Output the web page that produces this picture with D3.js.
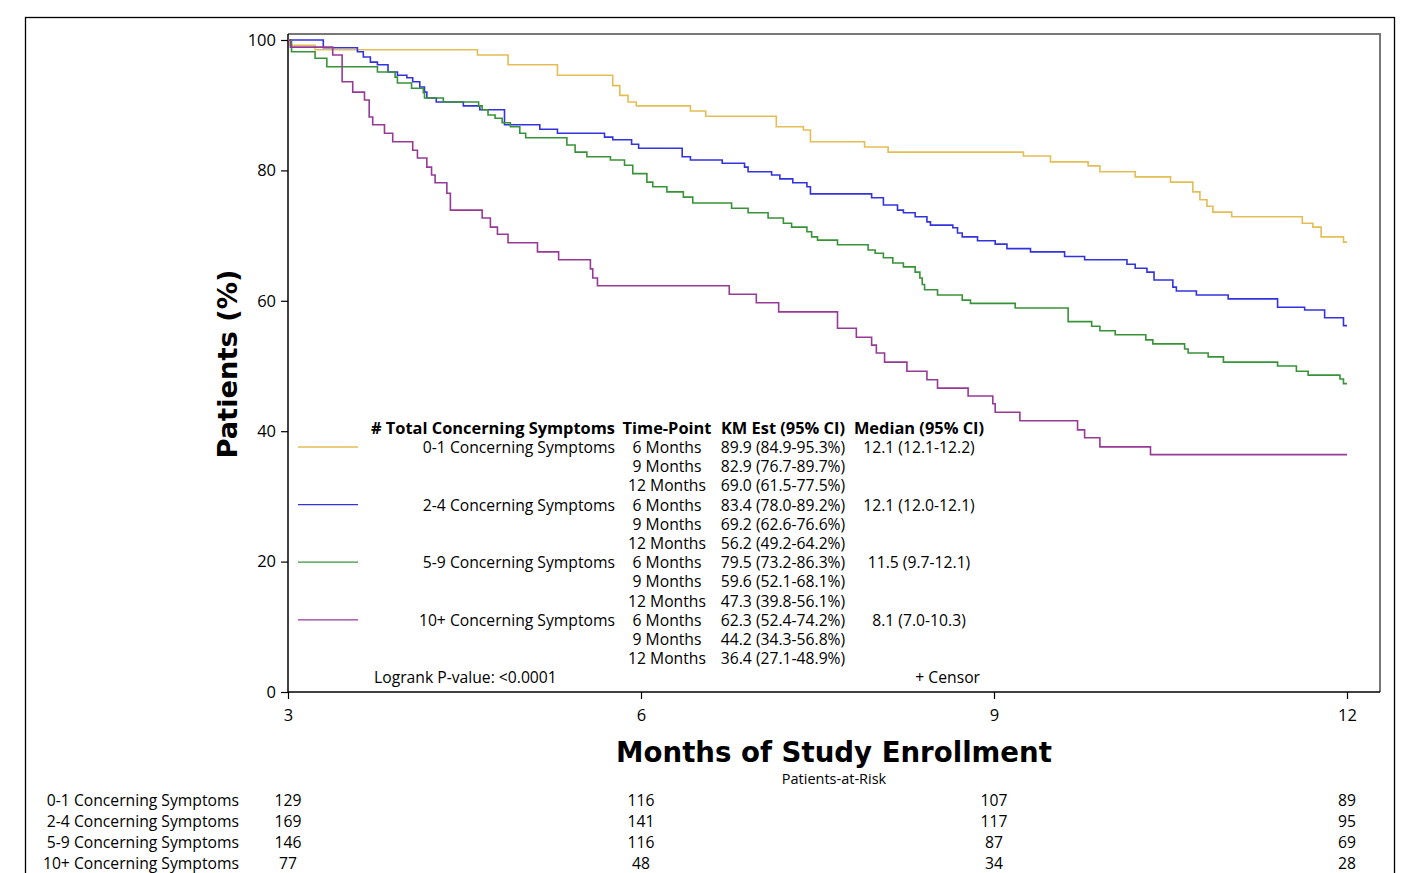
<!DOCTYPE html>
<html>
<head>
<meta charset="utf-8">
<script src="https://cdn.jsdelivr.net/npm/d3@7"></script>
<style>
  body { margin: 0; background: #fff; }
  svg text { font-family: "Open Sans", "DejaVu Sans", sans-serif; fill: #000; }
  .bold { font-family: "DejaVu Sans", sans-serif; font-weight: bold; }
</style>
</head>
<body>
<svg width="1409" height="873"></svg>
<script>
var svg = d3.select("svg"),
	width = +svg.attr("width"),
	height = +svg.attr("height");

// group names and colours
var groups = ["0-1 Concerning Symptoms", "2-4 Concerning Symptoms", "5-9 Concerning Symptoms", "10+ Concerning Symptoms"];
var colors = ["#E3BD55", "#3333DD", "#389338", "#963A96"];

// step curves (months, % patients)
var t01 = [3.00, 3.02, 3.23, 4.61, 4.87, 5.29, 5.76, 5.82, 5.89, 5.96, 6.42, 6.55, 7.15, 7.38, 7.44, 7.90, 8.10, 9.25, 9.48, 9.80, 9.90, 10.20, 10.50, 10.69, 10.75, 10.81, 10.86, 11.02, 11.62, 11.71, 11.78, 11.97, 12.00];
var s01 = [100, 99.2, 98.5, 97.7, 96.2, 94.6, 93.0, 91.5, 90.5, 89.9, 89.1, 88.3, 86.7, 86.2, 84.4, 83.6, 82.8, 82.2, 81.3, 80.7, 79.8, 79.0, 78.2, 76.7, 75.5, 74.5, 73.6, 72.9, 71.9, 71.3, 69.8, 69.0, 69.0];

var t24 = [3.00, 3.30, 3.59, 3.64, 3.70, 3.76, 3.85, 3.93, 4.01, 4.06, 4.12, 4.16, 4.18, 4.26, 4.49, 4.63, 4.84, 5.14, 5.29, 5.69, 5.76, 5.92, 5.98, 6.35, 6.42, 6.69, 6.88, 6.91, 7.11, 7.18, 7.29, 7.41, 7.44, 7.96, 8.06, 8.18, 8.23, 8.33, 8.43, 8.46, 8.65, 8.69, 8.73, 8.86, 9.01, 9.11, 9.31, 9.60, 9.77, 10.13, 10.20, 10.30, 10.36, 10.52, 10.55, 10.72, 10.99, 11.41, 11.64, 11.81, 11.97, 12.00];
var s24 = [100, 98.8, 98.2, 97.4, 96.6, 96.2, 95.1, 94.6, 94.2, 93.6, 92.8, 92.0, 91.1, 90.5, 89.9, 89.3, 87.0, 86.3, 85.7, 85.1, 84.7, 84.0, 83.4, 82.1, 81.6, 81.1, 80.5, 79.8, 79.3, 78.7, 78.1, 77.5, 76.4, 75.8, 74.7, 73.9, 73.5, 72.9, 72.1, 71.6, 71.2, 70.4, 69.8, 69.2, 68.7, 68.0, 67.5, 66.8, 66.3, 65.6, 65.0, 64.4, 63.2, 62.1, 61.5, 60.9, 60.3, 59.0, 58.6, 57.4, 56.2, 56.2];

var t59 = [3.00, 3.03, 3.23, 3.33, 3.76, 3.91, 3.93, 4.05, 4.15, 4.16, 4.32, 4.62, 4.65, 4.70, 4.76, 4.82, 4.89, 4.97, 5.02, 5.37, 5.44, 5.54, 5.74, 5.86, 5.93, 6.05, 6.10, 6.22, 6.36, 6.44, 6.77, 6.91, 7.08, 7.21, 7.28, 7.41, 7.45, 7.50, 7.67, 7.93, 7.99, 8.06, 8.14, 8.23, 8.33, 8.37, 8.39, 8.41, 8.52, 8.73, 8.80, 9.18, 9.63, 9.83, 9.90, 10.03, 10.29, 10.35, 10.62, 10.65, 10.82, 10.95, 11.41, 11.57, 11.67, 11.94, 11.97, 12.00];
var s59 = [100, 98.2, 97.2, 95.9, 95.1, 94.3, 93.4, 92.6, 91.9, 91.1, 90.5, 89.9, 89.3, 88.5, 88.0, 87.3, 86.7, 85.7, 85.0, 83.9, 82.8, 82.1, 81.6, 80.8, 79.5, 78.2, 77.5, 76.7, 75.9, 75.0, 74.2, 73.5, 72.7, 71.9, 71.3, 70.6, 69.8, 69.3, 68.6, 67.8, 67.3, 66.6, 65.8, 65.2, 64.4, 63.5, 62.5, 61.7, 60.9, 60.1, 59.6, 58.9, 56.8, 56.1, 55.4, 54.8, 54.0, 53.4, 52.6, 52.0, 51.4, 50.6, 50.0, 49.2, 48.6, 48.0, 47.3, 47.3];

var t10 = [3.00, 3.02, 3.38, 3.46, 3.55, 3.65, 3.69, 3.72, 3.82, 3.89, 4.06, 4.10, 4.18, 4.22, 4.25, 4.35, 4.38, 4.65, 4.72, 4.78, 4.87, 5.12, 5.30, 5.57, 5.59, 5.63, 6.75, 6.98, 7.17, 7.67, 7.83, 7.96, 8.00, 8.07, 8.26, 8.43, 8.52, 8.78, 8.99, 9.01, 9.22, 9.71, 9.77, 9.90, 10.33, 12.00];
var s10 = [100, 98.9, 97.7, 93.6, 92.0, 90.8, 88.2, 87.0, 85.7, 84.4, 83.1, 81.9, 80.5, 79.3, 78.1, 76.5, 73.9, 72.7, 71.3, 70.2, 68.9, 67.5, 66.3, 64.9, 63.5, 62.3, 61.0, 59.7, 58.3, 55.8, 54.4, 53.2, 52.0, 50.6, 49.2, 47.9, 46.6, 45.4, 44.2, 42.9, 41.6, 40.2, 39.0, 37.6, 36.4, 36.4];

var curveTimes = [t01, t24, t59, t10];
var curveSurv = [s01, s24, s59, s10];

// legend table
var timePoints = ["6 Months", "9 Months", "12 Months"];
var kmEst = [
	["89.9 (84.9-95.3%)", "82.9 (76.7-89.7%)", "69.0 (61.5-77.5%)"],
	["83.4 (78.0-89.2%)", "69.2 (62.6-76.6%)", "56.2 (49.2-64.2%)"],
	["79.5 (73.2-86.3%)", "59.6 (52.1-68.1%)", "47.3 (39.8-56.1%)"],
	["62.3 (52.4-74.2%)", "44.2 (34.3-56.8%)", "36.4 (27.1-48.9%)"]
];
var medians = ["12.1 (12.1-12.2)", "12.1 (12.0-12.1)", "11.5 (9.7-12.1)", "8.1 (7.0-10.3)"];

// patients at risk
var riskTimes = [3, 6, 9, 12];
var atRisk = [
	[129, 116, 107, 89],
	[169, 141, 117, 95],
	[146, 116, 87, 69],
	[77, 48, 34, 28]
];

var xTicks = [3, 6, 9, 12];
var yTicks = [0, 20, 40, 60, 80, 100];

// layout (plotTop: "top" is taken by window.top)
var plotLeft = 288, plotRight = 1380, plotTop = 34, plotBottom = 692;
var fs = "15.7px";

var x = d3.scaleLinear().domain([3, 12]).range([plotLeft, 1347]);
var y = d3.scaleLinear().domain([0, 100]).range([plotBottom, 40]);

// outer frame
svg.append("rect")
	.attr("x", 25.5).attr("y", 17.5)
	.attr("width", 1369).attr("height", 900)
	.style("fill", "none").style("stroke", "#000").style("stroke-width", 1.3);

// plot frame (top/right)
svg.append("path")
	.attr("d", "M" + plotLeft + "," + plotTop + "H" + plotRight + "V" + plotBottom)
	.style("fill", "none").style("stroke", "#777").style("stroke-width", 2);

// axes
var yAxis = svg.append("g")
	.attr("transform", "translate(" + plotLeft + ",0)")
	.call(d3.axisLeft(y).tickValues(yTicks).tickSize(7).tickPadding(5));
var xAxis = svg.append("g")
	.attr("transform", "translate(0," + plotBottom + ")")
	.call(d3.axisBottom(x).tickValues(xTicks).tickSize(7).tickPadding(10));

[yAxis, xAxis].forEach(function(a){
	a.select(".domain").remove();
	a.selectAll("line").style("stroke", "#000").style("stroke-width", 1.2);
	a.selectAll("text").style("font-size", "16.5px").style("font-family", "'Open Sans', sans-serif").style("fill", "#000");
});

svg.append("line")
	.attr("x1", plotLeft).attr("x2", plotLeft).attr("y1", plotTop).attr("y2", plotBottom)
	.style("stroke", "#000").style("stroke-width", 1.5);
svg.append("line")
	.attr("x1", plotLeft).attr("x2", plotRight).attr("y1", plotBottom).attr("y2", plotBottom)
	.style("stroke", "#000").style("stroke-width", 1.5);

// axis titles
svg.append("text")
	.attr("class", "bold")
	.attr("transform", "translate(237,364) rotate(-90)")
	.attr("text-anchor", "middle")
	.style("font-size", "27.3px")
	.text("Patients (%)");

svg.append("text")
	.attr("class", "bold")
	.attr("x", 834).attr("y", 762)
	.attr("text-anchor", "middle")
	.style("font-size", "27.6px")
	.text("Months of Study Enrollment");

// curves
var line = d3.line()
	.x(function(d){ return x(d[0]); })
	.y(function(d){ return y(d[1]); })
	.curve(d3.curveStepAfter);

svg.append("g")
	.selectAll("path")
	.data(d3.range(groups.length))
	.enter().append("path")
	.attr("d", function(i){ return line(d3.zip(curveTimes[i], curveSurv[i])); })
	.style("fill", "none")
	.style("stroke", function(i){ return colors[i]; })
	.style("stroke-width", 1.6);

// legend table
var rowH = 19.2, row0 = 447;
var leg = svg.append("g").style("font-size", fs);

var header = [["# Total Concerning Symptoms", 615, "end"], ["Time-Point", 667, "middle"], ["KM Est (95% CI)", 783, "middle"], ["Median (95% CI)", 919, "middle"]];
leg.selectAll("text.head")
	.data(header)
	.enter().append("text")
	.attr("class", "head")
	.attr("x", function(d){ return d[1]; })
	.attr("y", row0 - rowH + 6)
	.attr("text-anchor", function(d){ return d[2]; })
	.style("font-weight", "bold")
	.style("font-size", "16.4px")
	.text(function(d){ return d[0]; });

groups.forEach(function(g, i){
	var base = row0 + i * 3 * rowH;
	leg.append("line")
		.attr("x1", 298).attr("x2", 358)
		.attr("y1", base).attr("y2", base)
		.style("stroke", colors[i]).style("stroke-width", 1.3);
	leg.append("text")
		.attr("x", 615).attr("y", base + 6)
		.attr("text-anchor", "end")
		.text(g);
	leg.append("text")
		.attr("x", 919).attr("y", base + 6)
		.attr("text-anchor", "middle")
		.text(medians[i]);
	timePoints.forEach(function(tp, j){
		leg.append("text")
			.attr("x", 667).attr("y", base + j * rowH + 6)
			.attr("text-anchor", "middle")
			.text(tp);
		leg.append("text")
			.attr("x", 783).attr("y", base + j * rowH + 6)
			.attr("text-anchor", "middle")
			.text(kmEst[i][j]);
	});
});

leg.append("text")
	.attr("x", 374).attr("y", row0 + 12 * rowH + 6)
	.text("Logrank P-value: <0.0001");
leg.append("text")
	.attr("x", 980).attr("y", row0 + 12 * rowH + 6)
	.attr("text-anchor", "end")
	.text("+  Censor");

// patients at risk
svg.append("text")
	.attr("x", 834).attr("y", 784)
	.attr("text-anchor", "middle")
	.style("font-size", "14.5px")
	.text("Patients-at-Risk");

var risk = svg.append("g").style("font-size", fs);
groups.forEach(function(g, i){
	var yy = 806 + i * 21;
	risk.append("text")
		.attr("x", 239).attr("y", yy)
		.attr("text-anchor", "end")
		.text(g);
	riskTimes.forEach(function(t, j){
		risk.append("text")
			.attr("x", x(t)).attr("y", yy)
			.attr("text-anchor", "middle")
			.text(atRisk[i][j]);
	});
});
</script>
</body>
</html>
